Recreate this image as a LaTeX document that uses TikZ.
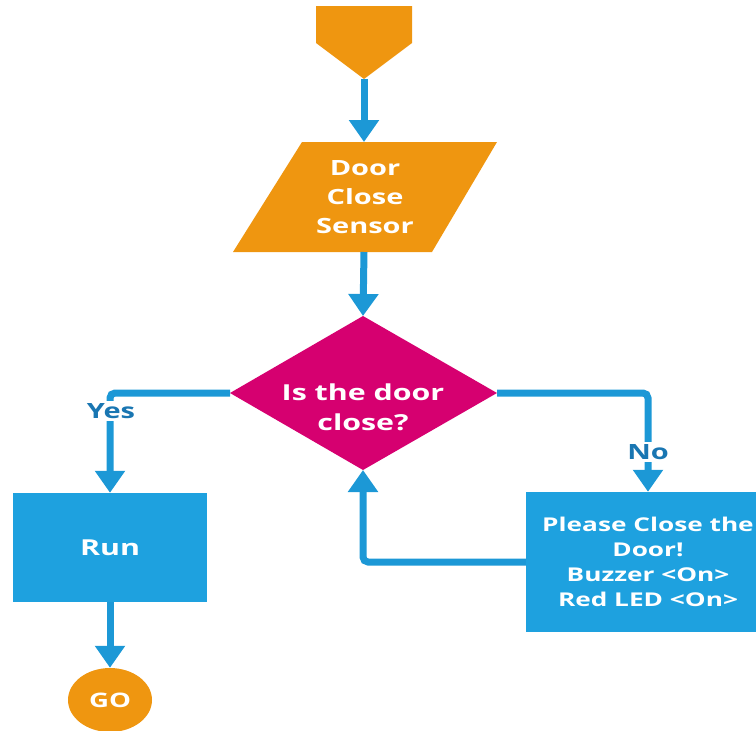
\documentclass[tikz,border=0pt]{standalone}
\usepackage{fontspec}
\setmainfont{Open Sans}[FakeStretch=1.38]
\usetikzlibrary{arrows.meta,shapes.geometric}
\definecolor{flowOrange}{RGB}{239,150,16}
\definecolor{flowMagenta}{RGB}{214,0,112}
\definecolor{flowBlue}{RGB}{30,161,223}
\definecolor{lineBlue}{RGB}{28,152,214}
\definecolor{labelBlue}{RGB}{25,118,178}

\begin{document}
\begin{tikzpicture}[x=1pt,y=-1pt,
  conn/.style={draw=lineBlue, line width=7pt, rounded corners=5pt,
               -{Triangle[length=22pt,width=29pt]}},
  txt/.style={text=white, font=\bfseries\fontsize{21}{29}\selectfont,
              align=center, inner sep=0pt},
  boxtxt/.style={text=white, font=\bfseries\fontsize{19}{25}\selectfont,
                 align=center, inner sep=0pt},
  lbl/.style={text=labelBlue, font=\bfseries\fontsize{21}{25}\selectfont,
              fill=white, inner sep=2pt},
  procbox/.style={fill=flowBlue}
]
\useasboundingbox (0,0) rectangle (756,731);
\clip (0,0) rectangle (756,731);

% start marker (off-page connector)
\fill[flowOrange] (316,6) -- (412,6) -- (412,43) -- (364,79) -- (316,43) -- cycle;
\coordinate (startTip) at (364,79);

% input: door close sensor
\fill[flowOrange] (302,142) -- (497,142) -- (432,252) -- (233,252) -- cycle;
\node[txt] (sensor) at (365,197) {Door\\Close\\Sensor};
\coordinate (sensorTop) at (364,142);
\coordinate (sensorBot) at (364,252);

% decision
\fill[flowMagenta] (363,316) -- (497,393) -- (363,470) -- (230,393) -- cycle;
\node[txt, font=\bfseries\fontsize{22}{30}\selectfont] (decision) at (363,407) {Is the door\\close?};
\coordinate (dTop) at (363,316);
\coordinate (dLeft) at (230,393);
\coordinate (dRight) at (497,393);
\coordinate (dBot) at (363,470);

% process boxes
\node[procbox, minimum width=194pt, minimum height=109pt, txt,
      font=\bfseries\fontsize{22}{30}\selectfont] (run) at (110,547.5) {Run};
\node[procbox, minimum width=244pt, minimum height=140pt, boxtxt] (alert) at (648,562)
  {Please Close the\\Door!\\Buzzer <On>\\Red LED <On>};

% terminator
\node[ellipse, fill=flowOrange, minimum width=84pt, minimum height=64pt, inner sep=0pt,
      text=white, font=\bfseries\fontsize{20}{24}\selectfont] (go) at (110,700) {GO};

% connectors
\draw[conn] (startTip) -- (sensorTop);
\draw[conn] (sensorBot) -- (dTop);
\draw[conn] (dLeft) -| (run.north);
\draw[conn] (dRight) -| (alert.north);
\draw[conn] (alert.west) -| (dBot);
\draw[conn] (run.south) -- (go.north);

% branch labels
\node[lbl] (yes) at (111,411) {Yes};
\node[lbl] (no) at (648,452) {No};
\end{tikzpicture}
\end{document}
